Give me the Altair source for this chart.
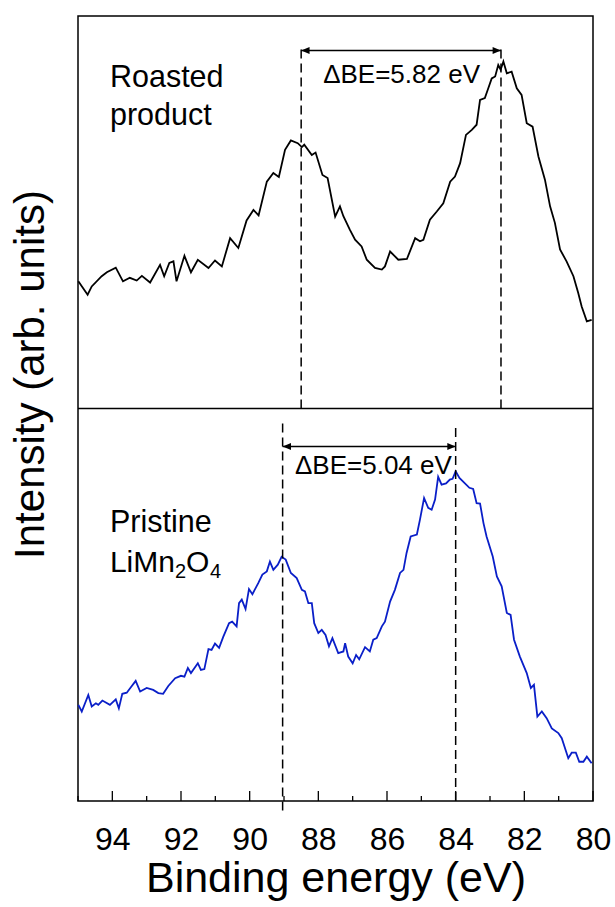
import altair as alt
import pandas as pd

# ---- Mn 3s spectra (binding energy in eV, intensity in arb. units) ----
roasted_be = [94.99, 94.72, 94.60, 94.31, 94.16, 93.90, 93.69, 93.49, 93.29, 93.14,
              92.90, 92.61, 92.49, 92.34, 92.22, 92.13, 91.90, 91.71, 91.51, 91.20,
              91.01, 90.81, 90.57, 90.33, 90.09, 89.89, 89.74, 89.50, 89.31, 89.15,
              88.97, 88.80, 88.60, 88.48, 88.41, 88.19, 88.08, 87.88, 87.73, 87.51,
              87.37, 87.27, 87.08, 86.93, 86.74, 86.59, 86.35, 86.15, 86.06, 85.91,
              85.67, 85.42, 85.18, 85.04, 84.94, 84.75, 84.55, 84.36, 84.16, 84.02,
              83.87, 83.70, 83.53, 83.39, 83.29, 83.15, 83.05, 82.95, 82.85, 82.76,
              82.69, 82.61, 82.51, 82.37, 82.22, 82.08, 81.93, 81.76, 81.59, 81.40,
              81.25, 81.11, 80.96, 80.77, 80.57, 80.43, 80.33, 80.18, 80.04]
roasted_int = [32.4, 29.0, 31.1, 33.7, 34.7, 35.9, 32.4, 33.3, 32.6, 33.8,
               32.1, 36.6, 33.7, 37.1, 37.5, 32.4, 38.9, 34.7, 37.9, 35.8,
               37.7, 36.2, 43.4, 40.9, 47.9, 50.6, 49.2, 57.8, 60.0, 59.0,
               65.9, 68.3, 67.6, 66.6, 67.2, 64.6, 65.2, 59.5, 58.7, 48.9,
               51.5, 49.0, 45.5, 43.0, 41.3, 37.9, 35.8, 35.4, 36.2, 40.0,
               37.9, 38.1, 43.4, 42.6, 43.0, 48.1, 50.2, 52.3, 57.8, 59.1,
               62.5, 69.7, 71.0, 72.3, 78.6, 79.1, 81.6, 84.1, 84.6, 87.5,
               86.3, 88.4, 85.4, 85.8, 81.6, 79.9, 72.7, 71.8, 64.2, 58.3,
               51.5, 47.3, 40.5, 37.5, 33.7, 29.4, 26.0, 22.2, 22.6]

pristine_be = [94.99, 94.89, 94.70, 94.60, 94.48, 94.41, 94.29, 94.07, 93.90, 93.81,
               93.71, 93.58, 93.46, 93.32, 93.19, 93.00, 92.81, 92.66, 92.52, 92.37,
               92.17, 92.00, 91.90, 91.80, 91.71, 91.51, 91.42, 91.32, 91.20, 91.11,
               91.01, 90.89, 90.77, 90.60, 90.51, 90.38, 90.31, 90.23, 90.12, 90.02,
               89.92, 89.75, 89.63, 89.50, 89.41, 89.31, 89.18, 89.07, 88.95, 88.80,
               88.63, 88.48, 88.39, 88.29, 88.19, 88.12, 88.00, 87.90, 87.79, 87.69,
               87.59, 87.42, 87.27, 87.22, 87.13, 87.00, 86.90, 86.81, 86.64, 86.50,
               86.40, 86.30, 86.15, 86.06, 85.91, 85.77, 85.62, 85.52, 85.43, 85.31,
               85.13, 85.04, 84.92, 84.80, 84.70, 84.60, 84.51, 84.41, 84.28, 84.17,
               84.09, 84.00, 83.89, 83.76, 83.60, 83.49, 83.39, 83.29, 83.19, 83.10,
               82.92, 82.80, 82.66, 82.51, 82.40, 82.30, 82.13, 81.93, 81.81, 81.72,
               81.62, 81.49, 81.35, 81.20, 81.01, 80.91, 80.72, 80.62, 80.50, 80.40,
               80.28, 80.18, 80.04]
pristine_int = [24.5, 22.8, 27.0, 24.1, 24.9, 24.5, 25.6, 24.5, 25.9, 23.6,
                27.3, 27.6, 29.0, 30.6, 27.9, 28.8, 28.3, 27.5, 27.3, 29.3,
                31.3, 31.9, 31.7, 33.9, 32.6, 35.1, 33.4, 33.6, 38.7, 38.5,
                40.1, 39.0, 41.8, 45.3, 45.7, 44.5, 50.4, 51.3, 48.9, 54.0,
                52.7, 55.5, 57.7, 58.5, 61.0, 58.9, 60.2, 62.2, 61.5, 58.1,
                56.8, 53.8, 53.4, 50.4, 50.4, 45.3, 42.8, 43.6, 42.3, 39.4,
                41.5, 37.7, 38.1, 40.2, 36.8, 35.1, 37.2, 36.1, 39.2, 38.1,
                41.1, 41.5, 44.5, 45.7, 50.8, 53.8, 58.1, 58.9, 63.2, 67.4,
                67.9, 71.7, 77.2, 74.7, 74.2, 76.8, 82.6, 80.6, 80.9, 81.9,
                82.1, 84.0, 82.3, 81.2, 79.8, 79.5, 75.9, 75.8, 70.8, 67.4,
                62.3, 57.2, 54.7, 47.9, 47.4, 41.1, 36.8, 32.6, 28.8, 29.6,
                21.5, 22.8, 21.1, 18.5, 17.3, 16.0, 10.9, 12.3, 12.3, 10.0,
                10.0, 11.3, 9.6]

# Peak positions and splitting labels
roasted_peaks = [88.50, 82.68]
pristine_peaks = [89.04, 84.00]
roasted_delta = "ΔBE=5.82 eV"
pristine_delta = "ΔBE=5.04 eV"

# Axis ticks
major_ticks = [94, 92, 90, 88, 86, 84, 82, 80]
minor_ticks = [95, 93, 91, 89, 87, 85, 83, 81]

PANEL = 100          # each spectrum occupies 100 units; the roasted one sits on top
FONT = "Liberation Sans"
W, H = 515, 785

spec = pd.concat([
    pd.DataFrame({"be": roasted_be, "i": roasted_int, "sample": "Roasted product", "off": PANEL}),
    pd.DataFrame({"be": pristine_be, "i": pristine_int, "sample": "Pristine LiMn2O4", "off": 0}),
], ignore_index=True)
spec["y"] = spec["i"] + spec["off"]

xs = alt.Scale(domain=[80, 95], reverse=True, nice=False, zero=False)
ys = alt.Scale(domain=[0, 2 * PANEL], nice=False, zero=False)

x_axis = alt.Axis(values=major_ticks, format="d", ticks=False, domain=False, grid=False,
                  labelFont=FONT, labelFontSize=32, labelColor="black", labelPadding=23,
                  labelFlush=False, title="Binding energy (eV)", titleFont=FONT,
                  titleFontSize=43, titleFontWeight="normal", titleColor="black",
                  titleBaseline="alphabetic", titleY=90)
y_axis = alt.Axis(labels=False, ticks=False, domain=False, grid=False,
                  title="Intensity (arb. units)", titleFont=FONT, titleFontSize=42,
                  titleFontWeight="normal", titleColor="black", titleAngle=-90,
                  titleBaseline="alphabetic", titleAlign="center", titleX=-35, titleY=358)

lines = alt.Chart(spec).mark_line(strokeWidth=1.8, interpolate="linear").encode(
    x=alt.X("be:Q", scale=xs, axis=x_axis),
    y=alt.Y("y:Q", scale=ys, axis=y_axis),
    color=alt.Color("sample:N", scale=alt.Scale(domain=["Roasted product", "Pristine LiMn2O4"],
                                                range=["#000000", "#0a1fc8"]), legend=None),
    detail="sample:N",
)

# separator between the two panels
sep = alt.Chart(pd.DataFrame({"y": [PANEL]})).mark_rule(color="black", strokeWidth=1.5).encode(
    y=alt.Y("y:Q", scale=ys), x=alt.value(0), x2=alt.value(W))

# inward ticks on the bottom axis
tick_df = pd.concat([pd.DataFrame({"t": major_ticks, "len": 10}),
                     pd.DataFrame({"t": minor_ticks, "len": 5})], ignore_index=True)
tick_df["y0"] = 0.0
tick_df["y1"] = tick_df["len"] * (2 * PANEL) / H
ticks = alt.Chart(tick_df).mark_rule(color="black", strokeWidth=1.3).encode(
    x=alt.X("t:Q", scale=xs), y=alt.Y("y0:Q", scale=ys), y2="y1:Q")

# dashed peak markers
dash_df = pd.DataFrame({
    "be": roasted_peaks + pristine_peaks,
    "y0": [PANEL, PANEL, -2.4, 0],
    "y1": [PANEL + 92.2, PANEL + 92.2, 96.2, 96.2],
})
dashes = alt.Chart(dash_df).mark_rule(color="black", strokeWidth=1.5, strokeDash=[9, 5]).encode(
    x=alt.X("be:Q", scale=xs), y=alt.Y("y0:Q", scale=ys), y2="y1:Q")

# double-headed arrows spanning the splitting
arr_df = pd.DataFrame({
    "a": [roasted_peaks[0], pristine_peaks[0]],
    "b": [roasted_peaks[1], pristine_peaks[1]],
    "y": [PANEL + 91.2, 90.3],
})
arr_line = alt.Chart(arr_df).mark_rule(color="black", strokeWidth=1.5).encode(
    x=alt.X("a:Q", scale=xs), x2="b:Q", y=alt.Y("y:Q", scale=ys))
head_l = alt.Chart(arr_df).mark_point(shape="M0,0 L1,-0.42 L1,0.42 Z", size=280, filled=True,
                                      color="black", opacity=1).encode(
    x=alt.X("a:Q", scale=xs), y=alt.Y("y:Q", scale=ys))
head_r = alt.Chart(arr_df).mark_point(shape="M0,0 L-1,-0.42 L-1,0.42 Z", size=280, filled=True,
                                      color="black", opacity=1).encode(
    x=alt.X("b:Q", scale=xs), y=alt.Y("y:Q", scale=ys))

delta_df = pd.DataFrame({"be": [87.86, 88.68], "y": [PANEL + 83.0, 83.2],
                         "txt": [roasted_delta, pristine_delta]})
delta_txt = alt.Chart(delta_df).mark_text(font=FONT, fontSize=26, align="left",
                                          baseline="alphabetic", color="black").encode(
    x=alt.X("be:Q", scale=xs), y=alt.Y("y:Q", scale=ys), text="txt:N")

# sample names
name_df = pd.DataFrame({"be": [94.07, 94.07, 94.07], "y": [PANEL + 81.9, PANEL + 72.3, 68.6],
                        "txt": ["Roasted", "product", "Pristine"]})
names = alt.Chart(name_df).mark_text(font=FONT, fontSize=30.5, align="left",
                                     baseline="alphabetic", color="black").encode(
    x=alt.X("be:Q", scale=xs), y=alt.Y("y:Q", scale=ys), text="txt:N")

formula_y = 58.4
def formula_part(txt, dx, size, dy):
    return alt.Chart(pd.DataFrame({"be": [94.07], "y": [formula_y], "txt": [txt]})).mark_text(
        font=FONT, fontSize=size, align="left", baseline="alphabetic", color="black",
        dx=dx, dy=dy).encode(x=alt.X("be:Q", scale=xs), y=alt.Y("y:Q", scale=ys), text="txt:N")

formula = (formula_part("LiMn", 0, 30, 0) + formula_part("2", 65, 20, 6)
           + formula_part("O", 76, 30, 0) + formula_part("4", 100, 20, 6))

chart = alt.layer(lines, sep, ticks, dashes, arr_line, head_l, head_r, delta_txt, names, formula).properties(
    width=W, height=H,
    autosize=alt.AutoSizeParams(type="none"),
    padding={"left": 78, "top": 16, "right": 22, "bottom": 106},
    background="white",
).configure_view(stroke="black", strokeWidth=1.5)

chart.save("out.html", embed_options={"renderer": "svg", "actions": False})
